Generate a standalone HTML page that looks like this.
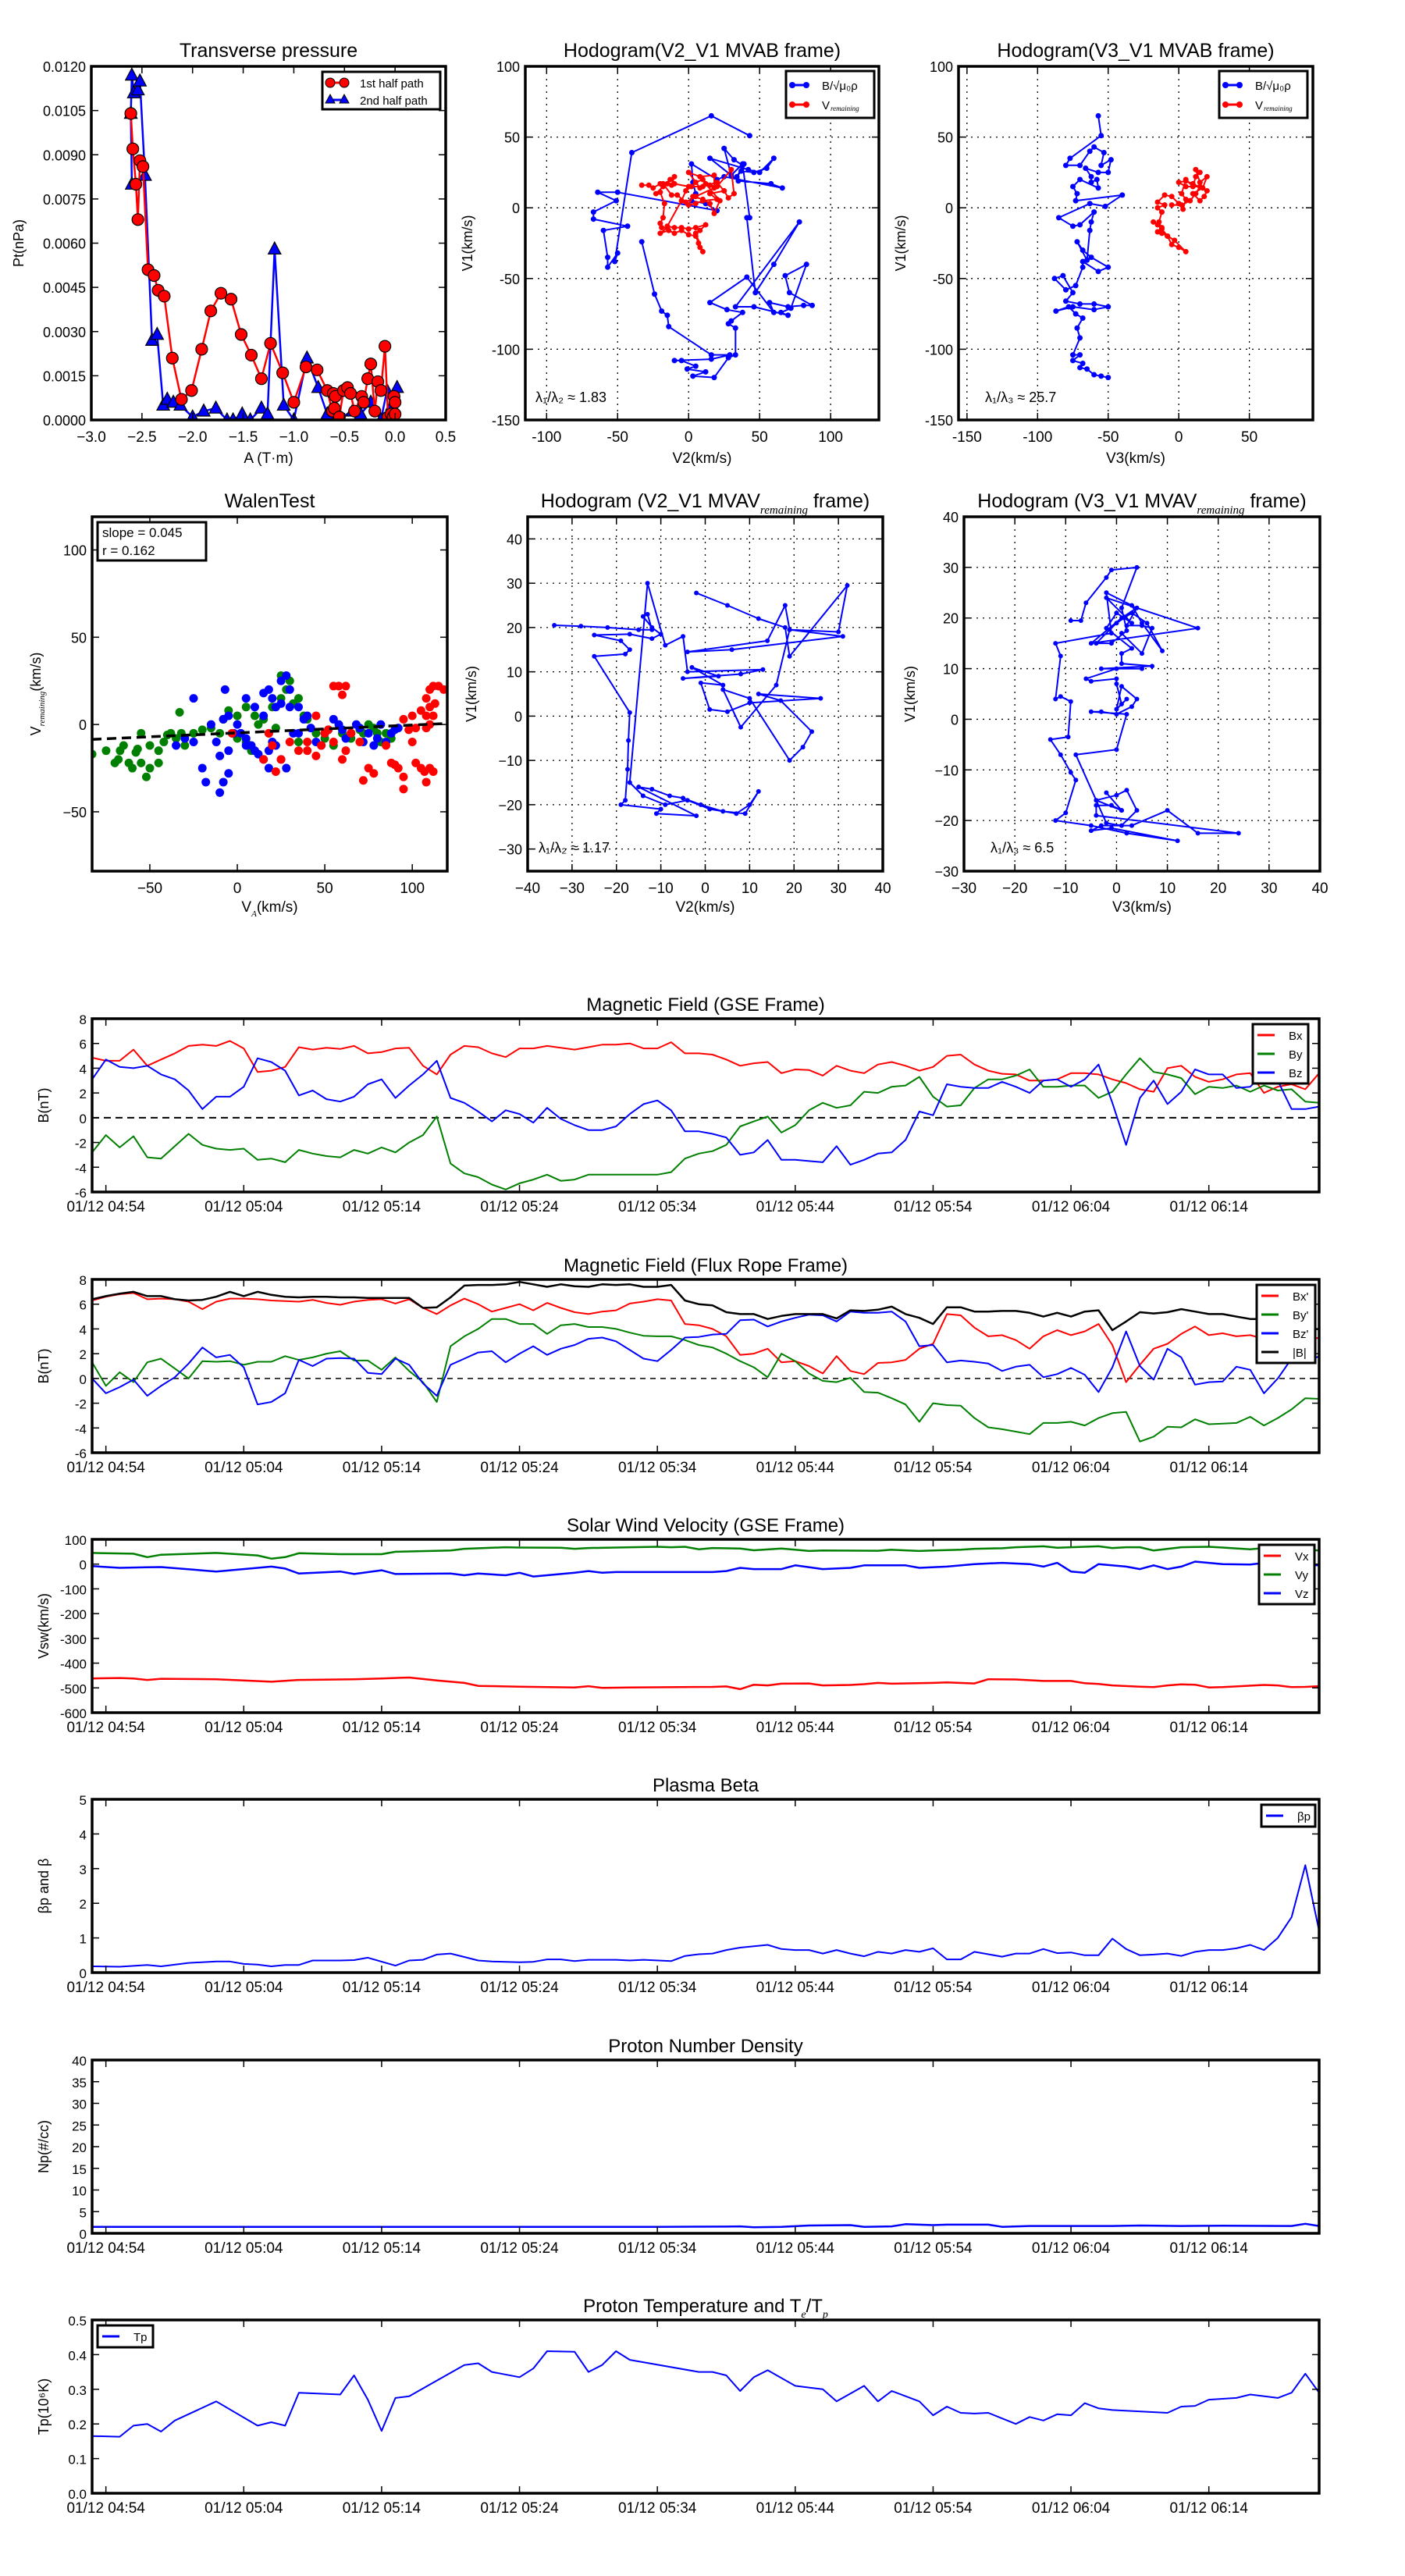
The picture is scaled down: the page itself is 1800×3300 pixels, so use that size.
<!DOCTYPE html>
<html><head><meta charset="utf-8">
<style>
html,body{margin:0;padding:0;background:#fff;}
svg{display:block;font-family:"Liberation Sans","DejaVu Sans",sans-serif;}
</style></head>
<body>
<svg id="fig" width="1800" height="3300" viewBox="0 0 1800 3300" xmlns="http://www.w3.org/2000/svg">
<rect x="0" y="0" width="1800" height="3300" fill="#fff"/>
</svg>
<script>
// ---------------- DATA ----------------
const ptRedA=[-2.61,-2.59,-2.56,-2.54,-2.52,-2.49,-2.44,-2.38,-2.34,-2.28,-2.2,-2.11,-2.01,-1.91,-1.82,-1.72,-1.62,-1.52,-1.42,-1.32,-1.23,-1.11,-1.0,-0.88,-0.77,-0.67,-0.62,-0.6,-0.61,-0.59,-0.55,-0.51,-0.47,-0.44,-0.4,-0.33,-0.31,-0.27,-0.24,-0.2,-0.17,-0.14,-0.1,-0.07,-0.04,-0.01,0.0,-0.02,0.0];
const ptRedP=[0.0104,0.0092,0.0080,0.0068,0.0088,0.0086,0.0051,0.0049,0.0044,0.0042,0.0021,0.0007,0.0010,0.0024,0.0037,0.0043,0.0041,0.0029,0.0022,0.0014,0.0026,0.0016,0.0006,0.0018,0.0017,0.0010,0.0003,0.0004,0.0009,0.0008,0.0001,0.0010,0.0011,0.0009,0.0003,0.0008,0.0006,0.0014,0.0019,0.0003,0.0013,0.0010,0.0025,0.0001,0.0002,0.0008,0.0006,0.0001,0.0002];
const ptBlueA=[-2.6,-2.61,-2.6,-2.58,-2.54,-2.52,-2.47,-2.4,-2.35,-2.29,-2.25,-2.19,-2.12,-2.0,-1.89,-1.77,-1.66,-1.6,-1.51,-1.43,-1.32,-1.26,-1.19,-1.1,-1.0,-0.87,-0.76,-0.67,-0.58,-0.42,-0.34,-0.24,-0.14,-0.08,-0.03,0.02,0.0];
const ptBlueP=[0.0080,0.0104,0.0117,0.0111,0.0112,0.0115,0.0083,0.0027,0.0029,0.0005,0.0007,0.0006,0.0005,0.0001,0.0003,0.0004,0.0000,0.0000,0.0002,0.0000,0.0004,0.0002,0.0058,0.0005,0.0000,0.0021,0.0011,0.0002,0.0000,0.0003,0.0002,0.0006,0.0000,0.0010,0.0005,0.0011,0.0000];

const hoB_V2=[-33,-24,-19,-15,-14,16,29,16,-10,-5,5,-1,12,3,18,28,33,33,28,30,38,27,15,41,60,57,70,81,87,71,68,83,72,65,70,46,33,78,60,47,41,43,38,30,25,32,38,39,34,37,46,55,60,50,42,15,35,58,66,25,20,2,3,5,2,12,20,-50,-64,-51,-67,-67,-43,-60,-57,-57,-50,-52,-40,16,43];
const hoB_V1=[-24,-61,-73,-76,-84,-104,-104,-107,-108,-108,-112,-114,-116,-119,-120,-106,-104,-85,-82,-80,-74,-72,-67,-49,-74,-67,-70,-69,-69,-60,-48,-40,-71,-74,-76,-70,-70,-10,-40,-60,-7,-7,31,23,42,34,30,31,22,26,25,28,35,25,27,35,19,17,14,22,20,31,18,10,5,3,-2,11,11,5,-3,-8,-13,-16,-35,-42,-32,-38,39,65,51];
const hoR_V2=[-33,-28,-25,-20,-15,-12,-10,-13,-18,-23,-20,-17,-18,-20,-19,-15,-20,-14,-10,-5,0,5,7,8,10,5,8,12,5,0,-5,-10,-15,-5,-2,2,5,10,15,20,30,32,28,25,15,20,10,5,0,3,10,15,18,22,12,8,0,8,18,18,5,-2,-8,-12,-18,-10,0,10,20,25];
const hoR_V1=[16,16,14,17,17,16,22,20,15,10,11,3,-7,-11,-14,-14,-18,-16,-18,-16,-19,-20,-25,-28,-31,-18,-16,-12,-14,-15,-14,-14,-13,5,12,15,18,20,16,15,27,10,7,12,10,6,5,3,2,8,6,3,-4,5,17,14,25,22,23,14,8,4,9,9,17,17,15,15,18,12];

const hoB_V3=[-57,-55,-77,-80,-70,-63,-60,-53,-55,-48,-50,-57,-66,-62,-62,-58,-57,-70,-75,-72,-73,-40,-52,-63,-85,-75,-70,-60,-62,-63,-65,-72,-68,-62,-50,-57,-68,-68,-73,-80,-88,-82,-75,-80,-70,-60,-50,-60,-75,-87,-78,-73,-68,-72,-70,-75,-70,-75,-68,-70,-65,-60,-55,-50];
const hoB_V1b=[65,51,35,30,30,40,43,39,30,34,25,25,28,22,18,20,14,20,15,10,5,9,1,3,-7,-13,-12,-3,-10,-16,-37,-24,-30,-35,-42,-45,-38,-42,-55,-58,-50,-48,-60,-66,-68,-68,-70,-72,-70,-73,-70,-75,-78,-85,-92,-104,-104,-108,-110,-113,-114,-118,-119,-120];
const hoR_V3=[-18,-15,-12,-15,-12,-8,-5,0,5,-3,-8,-12,-14,-12,-15,-10,-15,-10,-5,0,3,5,2,5,10,12,15,12,15,20,17,10,15,18,20,10,5,0,5,15,12,8,2,-5];
const hoR_V1b=[-10,-12,-14,-17,-18,-20,-26,-28,-31,-23,-20,-15,-10,-3,0,2,4,9,8,3,-1,6,10,20,15,22,25,27,18,22,14,10,5,8,12,17,19,18,15,15,10,5,2,2];

const walenRedX=[55,58,62,60,45,50,52,48,55,62,60,65,70,72,75,78,85,88,90,92,95,95,100,102,105,107,108,110,112,100,102,105,108,110,112,115,118,110,108,112,110,113,108,95,98,20,18,25,22,-3,30,35,40,45,15,40];
const walenRedY=[22,22,22,17,5,-5,-3,-12,-10,-15,-20,-5,-10,-32,-25,-28,-12,-22,-23,-25,-30,-37,-10,-22,-25,-27,-33,-25,-27,5,-2,8,15,20,22,22,20,10,5,5,0,12,-2,3,-3,-12,-5,-20,-27,-5,-10,-15,-15,-18,-20,-10];
const walenGreenX=[-83,-75,-70,-68,-67,-65,-62,-60,-58,-57,-55,-55,-52,-50,-50,-45,-45,-42,-38,-35,-32,-30,-25,-20,-15,-10,-8,-5,-3,0,0,5,5,8,10,12,15,18,20,22,25,25,28,30,32,35,35,38,40,45,50,55,60,65,70,72,75,78,80,82,85,88,-40,-33];
const walenGreenY=[-17,-15,-22,-20,-15,-12,-22,-25,-16,-14,-22,-5,-30,-12,-25,-15,-22,-10,-5,-8,-5,-12,-5,-3,-2,-5,3,8,-5,-8,5,10,-10,-15,5,0,3,-5,10,-2,15,28,20,25,12,15,-10,5,3,-5,-8,-12,-5,-8,-3,-5,0,-2,-5,-10,-5,-8,-6,7];
const walenBlueX=[-10,-8,-5,-20,-18,-25,-12,-10,-5,-2,0,2,5,5,8,10,12,15,18,18,20,22,25,28,-7,15,15,18,20,22,25,25,28,30,30,32,35,35,38,40,42,45,48,50,52,55,58,60,62,65,68,70,72,75,78,80,82,85,88,90,92,-30,-25,-35,-15,-5,5,10,-8];
const walenBlueY=[-39,-33,-28,-25,-33,15,-10,-18,-15,-5,0,-5,-8,-12,-12,-15,-17,-20,-15,-25,-10,-12,-20,-25,20,5,18,20,15,10,12,25,28,10,20,-5,10,-5,3,5,-2,-10,-12,-5,-3,3,0,-3,-8,-5,0,-2,-10,-5,-12,-8,0,-10,-5,-3,-2,-8,-10,-12,0,5,15,10,3];
const walenSlope=0.045, walenIntercept=-4.8;

const mvV2=[-34,-28,-22,-15,-12,-13,-14,-12,-10,-12,-17,-25,-19,-17,-18,-25,-17,-17.3,-17.5,-18,-19,-10,-11,-2,-15,-12,-8,-5,-1,4,9,12,10,7,1,-4,-9,-14,-17,-13,-9,-5,-4,13,8,-5,3,-3,4,-1,1,5,10,26,12,17,24,22,19,10,4,8,16,19,31,6,-4,14,18,19,30,32,19,18,12,5,-2];
const mvV1=[20.5,20.3,20,19.5,19.5,23,22.5,20,18.5,17.5,18.5,18.3,17,15,14,13.5,0.8,-5.5,-12,-19,-20,-21,-22,-22.5,-16,-16.5,-18,-18.5,-20,-21.5,-22,-17,-20,-22,-21,-19,-20,-18,-15,30,16,18,10,10.5,9.5,8.5,9,11,7,7.5,1.5,1,3,4,5,3.5,-3.5,-7,-10,4,6,-2.5,7,19.5,18,15,14.5,17,25,19.5,19,29.5,13.5,20,22,25,27.8];
const mv3V3=[-9,-7,-6,-2,-1,4,1,2,-1,-4,0,3,6,9,5,3,-2,-1,-12,-11,-12,-11,-9,-9.5,-13,-11,-9,-8,-10,-12,-5,2,12,-1,-5,-3,3,10,16,24,-4,-4,-1,1,-2,1,-4,0,2,4,1,-2,-8,0,2,-5,-3,0,3,4,1,0,2,1,0,0,-5,-6,0,5,-3,7,1,1,3,-2,0,3,-2,16,-5,1,4,2,5,7,5,1];
const mv3V1=[19.5,19.5,23,28,29.5,30,22,17.5,15,15,19,21,19,13.5,19,22.5,25,17,15,12.5,4,4.5,3.5,-3.5,-4,-7,-10.5,-12,-18.5,-20,-21,-22.5,-24,-21.5,-22,-21,-21,-18,-22.5,-22.5,-19,-17,-17,-18,-14.5,-18,-16,-15,-14,-18,-21,-20.5,-7,-6,1,1.5,1.5,1,2.5,4,6.5,2,4,3,7,8,7.5,8,10,10,10,10.5,11,13,14,18,21,19,24,18,15,20,22,18.5,18.5,18,13,17];

// time-series (minutes after 01/12 04:54, 1-min cadence starting at -1)
const tsStart=-1;
const timeTickMin=[0,10,20,30,40,50,60,70,80];
const timeTickLbl=['01/12 04:54','01/12 05:04','01/12 05:14','01/12 05:24','01/12 05:34','01/12 05:44','01/12 05:54','01/12 06:04','01/12 06:14'];
const bxGse=[4.85,4.6,4.6,5.5,4.2,4.7,5.2,5.8,5.9,5.8,6.2,5.6,3.7,3.8,4.1,5.7,5.5,5.65,5.55,5.8,5.2,5.3,5.6,5.65,4.2,3.5,5.1,5.8,5.7,5.2,4.9,5.6,5.6,5.8,5.65,5.5,5.7,5.9,5.9,6.0,5.6,5.6,6.1,5.2,5.2,5.1,4.7,4.2,4.4,4.5,3.6,3.9,3.85,3.4,4.2,3.8,3.6,4.3,4.5,4.2,3.8,4.1,5.0,5.1,4.3,3.8,3.55,3.5,3.0,3.0,3.1,3.6,3.6,3.5,3.1,2.8,2.3,2.1,4.0,4.2,3.3,2.9,3.1,3.5,3.6,2.0,2.5,2.7,2.3,3.6];
const byGse=[-2.8,-1.4,-2.4,-1.5,-3.2,-3.3,-2.3,-1.3,-2.2,-2.5,-2.6,-2.5,-3.4,-3.3,-3.6,-2.6,-2.9,-3.1,-3.2,-2.6,-2.9,-2.4,-2.8,-2.0,-1.4,0.1,-3.7,-4.5,-4.8,-5.4,-5.8,-5.3,-5.0,-4.6,-5.1,-5.0,-4.6,-4.6,-4.6,-4.6,-4.6,-4.6,-4.4,-3.3,-2.9,-2.7,-2.2,-0.7,-0.3,0.1,-1.2,-0.6,0.6,1.2,0.8,1.0,2.1,2.0,2.5,2.6,3.3,1.7,0.9,1.0,2.4,3.1,3.1,3.4,3.9,2.5,2.5,2.6,2.6,1.6,2.1,3.5,4.8,3.7,3.5,3.2,1.9,2.5,2.4,2.6,2.1,2.6,2.2,2.3,1.3,1.2];
const bzGse=[3.1,4.7,4.1,4.0,4.2,3.5,3.1,2.2,0.7,1.7,1.7,2.5,4.8,4.5,3.8,1.8,2.2,1.5,1.3,1.7,2.7,3.1,1.6,2.6,3.5,4.6,1.6,1.2,0.5,-0.3,0.6,0.3,-0.4,0.8,-0.1,-0.6,-1.0,-1.0,-0.7,0.3,1.1,1.4,0.6,-1.1,-1.1,-1.3,-1.6,-3.0,-2.8,-1.8,-3.4,-3.4,-3.5,-3.6,-2.3,-3.8,-3.4,-2.9,-2.8,-1.8,0.5,0.2,2.7,2.5,2.4,2.4,2.9,2.5,2.0,3.0,3.1,2.5,3.1,4.3,1.2,-2.2,1.6,3.0,1.1,2.1,3.9,3.5,3.5,2.4,2.5,3.6,3.0,0.7,0.7,0.9];
const bxFr=[6.3,6.6,6.8,6.9,6.4,6.45,6.4,6.2,5.6,6.2,6.45,6.45,6.4,6.3,6.25,6.2,6.35,6.1,5.95,6.2,6.35,6.4,6.05,6.4,5.7,5.2,5.9,6.45,6.0,5.4,5.7,6.0,5.5,6.1,5.7,5.35,5.2,5.4,5.5,6.05,6.2,6.4,6.3,4.4,4.3,4.0,3.4,1.9,2.0,2.4,1.3,1.4,1.0,0.4,1.8,0.6,0.35,1.25,1.3,1.5,2.4,2.8,5.2,5.1,4.1,3.4,3.5,3.1,2.4,3.4,3.9,3.5,3.8,4.4,2.7,-0.3,1.1,2.4,2.8,3.6,4.2,3.5,3.65,3.4,3.5,3.2,3.2,2.5,3.0,3.3];
const byFr=[1.3,-0.6,0.5,-0.3,1.3,1.6,0.8,0.0,1.4,1.35,1.4,1.1,1.35,1.35,1.8,1.5,1.7,2.0,2.2,1.45,1.45,0.7,1.7,0.6,-0.3,-1.9,2.6,3.4,4.0,4.8,4.8,4.4,4.4,3.6,4.3,4.4,4.15,4.15,4.0,3.7,3.45,3.4,3.4,3.1,2.7,2.5,2.0,1.4,0.9,0.1,2.0,1.4,0.4,-0.2,-0.3,0.05,-1.1,-1.15,-1.6,-2.1,-3.5,-2.0,-2.15,-2.2,-3.2,-3.95,-4.1,-4.3,-4.5,-3.6,-3.6,-3.5,-3.8,-3.2,-2.8,-2.7,-5.1,-4.7,-3.9,-3.95,-3.3,-3.7,-3.65,-3.6,-3.1,-3.8,-3.2,-2.5,-1.6,-1.65];
const bzFr=[0.0,-1.2,-0.7,-0.1,-1.4,-0.6,0.1,1.2,2.5,1.7,1.9,0.9,-2.1,-1.9,-1.2,1.5,1.0,1.6,1.65,1.6,0.45,0.35,1.6,1.1,-0.4,-1.4,1.1,1.6,2.1,2.2,1.3,2.0,2.6,1.9,2.4,2.7,3.2,3.3,3.0,2.3,1.6,1.4,2.3,3.3,3.35,3.55,3.6,4.7,4.75,4.2,4.6,4.9,5.15,5.1,4.6,5.4,5.3,5.3,5.4,4.6,2.6,2.7,1.3,1.45,1.35,1.2,0.6,0.95,1.1,0.1,0.35,0.85,0.3,-1.1,0.9,3.8,1.0,-0.1,2.4,1.7,-0.5,-0.3,-0.25,0.95,0.7,-1.2,0.0,1.6,1.25,1.8];
const bmFr=[6.4,6.65,6.85,7.0,6.65,6.65,6.4,6.3,6.35,6.6,7.0,6.65,7.0,6.75,6.6,6.55,6.6,6.6,6.55,6.55,6.5,6.5,6.5,6.5,5.7,5.75,6.55,7.5,7.55,7.55,7.6,7.8,7.6,7.4,7.6,7.45,7.4,7.6,7.55,7.6,7.4,7.4,7.55,6.3,6.0,5.9,5.35,5.2,5.2,4.8,5.05,5.2,5.2,5.2,4.85,5.5,5.45,5.55,5.8,5.2,4.9,4.4,5.75,5.75,5.4,5.4,5.45,5.45,5.3,5.0,5.3,5.0,5.4,5.5,3.9,4.6,5.35,5.25,5.35,5.6,5.4,5.2,5.2,5.0,4.8,4.8,4.5,3.9,3.9,4.0];

const vT=[-1,1,2,3,4,8,10,12,14,18,20,22,24,26,27,30,32,34,35,36,38,44,45,46,47,48,49,51,52,54,55,56,57,60,61,63,64,66,68,70,71,72,73,75,76,77,78,79,80,81,82,84,85,86,87,88];
const vxVal=[-462,-460,-462,-468,-463,-465,-470,-475,-468,-465,-462,-458,-470,-480,-492,-495,-497,-498,-493,-500,-498,-496,-494,-505,-487,-490,-483,-482,-490,-488,-485,-480,-483,-480,-478,-482,-465,-466,-472,-472,-481,-484,-490,-495,-497,-490,-486,-487,-498,-497,-494,-488,-490,-497,-496,-493];
const vyT=[-1,2,3,4,8,11,12,13,14,17,20,21,25,26,29,30,33,34,35,40,41,42,43,44,46,47,49,51,52,56,57,59,60,62,63,65,66,68,69,71,72,73,74,75,76,78,80,81,83,84,86,88];
const vyVal=[45,42,28,38,45,35,22,28,44,40,40,50,55,62,68,67,66,62,65,70,68,70,60,65,63,56,63,53,55,54,58,53,55,58,62,64,68,72,66,70,72,65,68,68,55,68,70,67,60,65,62,55];
const vzT=[-1,1,3,4,8,11,12,13,14,17,18,20,21,25,26,27,29,30,31,34,35,36,37,44,45,46,47,49,50,52,54,55,58,59,61,63,65,67,68,69,70,71,72,74,75,76,77,78,79,81,83,84,86,88];
const vzVal=[-8,-15,-13,-12,-30,-15,-10,-18,-38,-30,-40,-25,-40,-38,-45,-38,-45,-35,-50,-35,-28,-35,-32,-32,-28,-15,-20,-20,-5,-20,-15,-5,-5,-15,-10,0,5,0,-10,5,-30,-35,0,-10,-20,-5,-20,-10,10,0,-2,5,0,-5];

const betaT=[-1,1,3,4,6,8,9,10,11,12,13,14,15,17,18,19,21,22,23,24,25,26,27,28,30,31,32,33,34,35,37,38,39,41,42,43,44,45,46,48,49,50,51,52,53,54,55,56,57,58,59,60,61,62,63,64,65,66,67,68,69,70,71,72,73,74,75,76,77,78,79,80,81,82,83,84,85,86,87,88];
const betaVal=[0.18,0.17,0.22,0.18,0.28,0.32,0.32,0.25,0.23,0.18,0.22,0.22,0.35,0.35,0.36,0.43,0.2,0.35,0.37,0.52,0.55,0.45,0.35,0.32,0.3,0.31,0.38,0.38,0.33,0.37,0.37,0.35,0.37,0.33,0.48,0.53,0.55,0.65,0.72,0.8,0.68,0.65,0.65,0.55,0.65,0.55,0.47,0.6,0.55,0.65,0.6,0.7,0.38,0.38,0.6,0.53,0.46,0.55,0.55,0.68,0.56,0.58,0.5,0.5,0.98,0.68,0.5,0.52,0.55,0.48,0.6,0.65,0.65,0.7,0.8,0.65,1.0,1.6,3.1,1.2];

const npT=[-1,10,20,30,40,45,46,47,49,51,54,55,57,58,60,61,64,65,67,73,75,78,81,86,87,88];
const npVal=[1.5,1.5,1.5,1.5,1.5,1.55,1.6,1.4,1.5,1.8,1.9,1.5,1.6,2.1,1.9,2.0,2.0,1.5,1.7,1.7,1.8,1.7,1.75,1.7,2.2,1.7];

const tpT=[-1,1,2,3,4,5,8,11,12,13,14,17,18,19,20,21,22,26,27,28,30,31,32,34,35,36,37,38,43,44,45,46,47,48,50,51,52,53,55,56,57,59,60,61,62,63,64,66,67,68,69,70,71,72,73,77,78,79,80,82,83,85,86,87,88];
const tpVal=[0.165,0.163,0.195,0.2,0.178,0.21,0.265,0.195,0.205,0.195,0.29,0.285,0.34,0.27,0.18,0.275,0.28,0.37,0.375,0.35,0.335,0.36,0.41,0.408,0.35,0.37,0.41,0.385,0.35,0.35,0.34,0.295,0.335,0.355,0.31,0.305,0.3,0.265,0.31,0.265,0.295,0.265,0.225,0.25,0.232,0.23,0.232,0.2,0.22,0.21,0.228,0.225,0.26,0.245,0.24,0.232,0.25,0.252,0.27,0.275,0.285,0.275,0.29,0.345,0.29];

// ---------------- DRAWING ----------------
const NS='http://www.w3.org/2000/svg';
const svg=document.getElementById('fig');
function mk(tag,attrs,parent){const e=document.createElementNS(NS,tag);for(const k in attrs)e.setAttribute(k,attrs[k]);(parent||svg).appendChild(e);return e;}
function txt(parent,x,y,s,size,anchor,rot,extra){
  const t=mk('text',{x:0,y:0,'font-size':size,'text-anchor':anchor||'middle',fill:'#000',transform:'translate('+x+','+y+')'+(rot?' rotate('+rot+')':'')},parent);
  if(extra)for(const k in extra)t.setAttribute(k,extra[k]);
  if(Array.isArray(s)){
    s.forEach((part,i)=>{const sp=mk('tspan',{},t);
      if(i%2===1){sp.setAttribute('font-size',Math.round(size*0.6));sp.setAttribute('dy',Math.round(size*0.3));sp.setAttribute('font-style','italic');sp.setAttribute('font-family','Liberation Serif, serif');}
      else if(i>0){sp.setAttribute('dy',-Math.round(size*0.3));}
      sp.textContent=part;});
  } else t.textContent=s;
  return t;}
let clipId=0;
function panel(o){
  const g=mk('g',{},svg);
  
  
  const sx=v=>o.x+(v-o.xmin)/(o.xmax-o.xmin)*o.w;
  const sy=v=>o.y+o.h-(v-o.ymin)/(o.ymax-o.ymin)*o.h;
  const cid='c'+(clipId++);
  const cp=mk('clipPath',{id:cid},g);
  mk('rect',{x:o.x,y:o.y,width:o.w,height:o.h},cp);
  if(o.grid){
    o.xticks.forEach(v=>{const l=mk('line',{x1:sx(v),x2:sx(v),y1:o.y,y2:o.y+o.h,stroke:'#000','stroke-width':1.3,'stroke-dasharray':'2,6'},g);
      
      });
    o.yticks.forEach(v=>{const l=mk('line',{x1:o.x,x2:o.x+o.w,y1:sy(v),y2:sy(v),stroke:'#000','stroke-width':1.3,'stroke-dasharray':'2,6'},g);
      
      });
  }
  const data=mk('g',{'clip-path':'url(#'+cid+')'},g);
  
  
  const tk=mk('g',{stroke:'#000','stroke-width':1.5},g);
  
  
  o.xticks.forEach((v,i)=>{const X=sx(v);
    mk('line',{x1:X,x2:X,y1:o.y+o.h,y2:o.y+o.h-9},tk);mk('line',{x1:X,x2:X,y1:o.y,y2:o.y+9},tk);
    const t=txt(g,X,o.y+o.h+(o.xtickGap||28),o.xlabels[i],o.xtickSize||19,'middle');
    
    });
  o.yticks.forEach((v,i)=>{const Y=sy(v);
    mk('line',{x1:o.x,x2:o.x+9,y1:Y,y2:Y},tk);mk('line',{x1:o.x+o.w,x2:o.x+o.w-9,y1:Y,y2:Y},tk);
    const t=txt(g,o.x-7,Y+7,o.ylabels[i],o.ytickSize||18,'end');
    
    });
  if(o.title){const t=txt(g,o.x+o.w/2,o.y-(o.titleGap||12),o.title,o.titleSize||25,'middle');
    
    }
  if(o.xlabel){const t=txt(g,o.x+o.w/2,o.y+o.h+(o.xlabelGap||60),o.xlabel,19,'middle');
    
    }
  if(o.ylabel){const t=txt(g,o.ylx,o.y+o.h/2,o.ylabel,18,'middle',-90);
    
    }
  return {g,data,sx,sy,o,frame(){const r=mk('rect',{x:o.x,y:o.y,width:o.w,height:o.h,fill:'none',stroke:'#000','stroke-width':3.5},g);
    
    }};
}
function line(P,xs,ys,color,w,name,dash){
  const d=xs.map((x,i)=>(i?'L':'M')+P.sx(x).toFixed(1)+','+P.sy(ys[i]).toFixed(1)).join('');
  const p=mk('path',{d:d,fill:'none',stroke:color,'stroke-width':w||2,'stroke-linejoin':'round'},P.data);
  if(dash)p.setAttribute('stroke-dasharray',dash);
  
  
  return p;}
function dots(P,xs,ys,color,r,name,edge){
  const g=mk('g',{},P.data);
  
  
  xs.forEach((x,i)=>{mk('circle',{cx:P.sx(x),cy:P.sy(ys[i]),r:r,fill:color,stroke:edge||color,'stroke-width':edge?1.2:0},g);});
  return g;}
function tris(P,xs,ys,color,s,name){
  const g=mk('g',{},P.data);
  
  
  xs.forEach((x,i)=>{const X=P.sx(x),Y=P.sy(ys[i]);
    mk('polygon',{points:X+','+(Y-s)+' '+(X-s*0.9)+','+(Y+s*0.7)+' '+(X+s*0.9)+','+(Y+s*0.7),fill:color,stroke:'#000','stroke-width':1.2},g);});
  return g;}
function legendBox(parent,x,y,w,h,name){
  const g=mk('g',{},parent);
  
  
  mk('rect',{x:x,y:y,width:w,height:h,fill:'#fff',stroke:'#000','stroke-width':3},g);
  return g;}
function legEntry(g,x,y,color,label,size,marker){
  const e=mk('g',{},g);
  
  
  mk('line',{x1:x,x2:x+22,y1:y,y2:y,stroke:color,'stroke-width':3},e);
  if(marker==='dot'){mk('circle',{cx:x+2,cy:y,r:4,fill:color},e);mk('circle',{cx:x+20,cy:y,r:4,fill:color},e);}
  txt(e,x+40,y+6,label,size||16,'start');
  return e;}
function rng(a,b,s){const r=[];for(let v=a;v<=b+1e-9;v+=s)r.push(+v.toFixed(6));return r;}

// ===== Transverse pressure =====
{
 const xt=rng(-3,0.5,0.5), yt=rng(0,0.012,0.0015);
 const P=panel({name:'transverse-pressure-chart',x:117,y:85,w:454,h:453,xmin:-3,xmax:0.5,ymin:0,ymax:0.012,
  xticks:xt,xlabels:xt.map(v=>v.toFixed(1).replace('-','−')),yticks:yt,ylabels:yt.map(v=>v.toFixed(4)),
  title:'Transverse pressure',xlabel:'A (T·m)',ylabel:'Pt(nPa)',ylx:30,xlabelGap:55});
 line(P,ptBlueA,ptBlueP,'#0000ff',2.5,'second-half-path-line');
 tris(P,ptBlueA,ptBlueP,'#0000ff',9,'second-half-path-markers');
 line(P,ptRedA,ptRedP,'#ff0000',2.5,'first-half-path-line');
 dots(P,ptRedA,ptRedP,'#ff0000',7.5,'first-half-path-markers','#000');
 P.frame();
 const L=legendBox(P.g,413,92,151,48,'legend');
 const e1=legEntry(L,421,106,'#ff0000','1st half path',15);
 mk('circle',{cx:423,cy:106,r:6,fill:'#f00',stroke:'#000'},e1);mk('circle',{cx:441,cy:106,r:6,fill:'#f00',stroke:'#000'},e1);
 const e2=legEntry(L,421,128,'#0000ff','2nd half path',15);
 mk('polygon',{points:'423,121 417,132 429,132',fill:'#00f',stroke:'#000'},e2);mk('polygon',{points:'441,121 435,132 447,132',fill:'#00f',stroke:'#000'},e2);
}
function hodoLegend(P,x,y){
 const L=legendBox(P.g,x,y,113,60,'legend');
 legEntry(L,x+6,y+18,'#0000ff','B/√μ₀ρ',15,'dot');
 legEntry(L,x+6,y+43,'#ff0000','V',15,'dot');
 txt(L,x+57,y+51,'remaining',9,'start',0,{'font-style':'italic','font-family':'Liberation Serif, serif'});
}
// ===== Hodogram V2_V1 MVAB =====
{
 const xt=[-100,-50,0,50,100], yt=[-150,-100,-50,0,50,100];
 const P=panel({name:'hodogram-v2-v1-mvab',x:673,y:85,w:453,h:453,xmin:-115,xmax:134,ymin:-150,ymax:100,grid:true,
  xticks:xt,xlabels:xt.map(String),yticks:yt,ylabels:yt.map(String),title:'Hodogram(V2_V1 MVAB frame)',xlabel:'V2(km/s)',ylabel:'V1(km/s)',ylx:605,xlabelGap:55});
 line(P,hoB_V2,hoB_V1,'#0000ff',2,'b-field-path');
 dots(P,hoB_V2,hoB_V1,'#0000ff',3.5,'b-field-points');
 line(P,hoR_V2,hoR_V1,'#ff0000',2,'v-remaining-path');
 dots(P,hoR_V2,hoR_V1,'#ff0000',3.5,'v-remaining-points');
 P.frame(); hodoLegend(P,1007,91);
 const t=txt(P.g,686,515,'λ₁/λ₂ ≈ 1.83',18,'start');
 
 
}
// ===== Hodogram V3_V1 MVAB =====
{
 const xt=[-150,-100,-50,0,50], yt=[-150,-100,-50,0,50,100];
 const P=panel({name:'hodogram-v3-v1-mvab',x:1228,y:85,w:454,h:453,xmin:-156,xmax:95,ymin:-150,ymax:100,grid:true,
  xticks:xt,xlabels:xt.map(String),yticks:yt,ylabels:yt.map(String),title:'Hodogram(V3_V1 MVAB frame)',xlabel:'V3(km/s)',ylabel:'V1(km/s)',ylx:1160,xlabelGap:55});
 line(P,hoB_V3,hoB_V1b,'#0000ff',2,'b-field-path');
 dots(P,hoB_V3,hoB_V1b,'#0000ff',3.5,'b-field-points');
 line(P,hoR_V3,hoR_V1b,'#ff0000',2,'v-remaining-path');
 dots(P,hoR_V3,hoR_V1b,'#ff0000',3.5,'v-remaining-points');
 P.frame(); hodoLegend(P,1562,91);
 const t=txt(P.g,1262,515,'λ₁/λ₃ ≈ 25.7',18,'start');
 
 
}
// ===== Walen test =====
{
 const xt=[-50,0,50,100], yt=[-50,0,50,100];
 const P=panel({name:'walen-test-chart',x:118,y:662,w:455,h:454,xmin:-83,xmax:120,ymin:-84,ymax:119,
  xticks:xt,xlabels:xt.map(v=>String(v).replace('-','−')),yticks:yt,ylabels:yt.map(v=>String(v).replace('-','−')),title:'WalenTest',xlabel:['V','A','(km/s)'],ylabel:['V','remaining','(km/s)'],ylx:52,xlabelGap:52});
 dots(P,walenGreenX,walenGreenY,'#008000',5.5,'walen-points-green');
 dots(P,walenBlueX,walenBlueY,'#0000ff',5.5,'walen-points-blue');
 dots(P,walenRedX,walenRedY,'#ff0000',5.5,'walen-points-red');
 line(P,[-83,120],[walenSlope*-83+walenIntercept,walenSlope*120+walenIntercept],'#000',3.5,'walen-fit-line','12,7');
 P.frame();
 const L=legendBox(P.g,125,669,139,49,'walen-stats-box');
 txt(L,131,688,'slope = 0.045',17,'start');
 txt(L,131,711,'r = 0.162',17,'start');
}
// ===== Hodogram V2_V1 MVAV =====
{
 const xt=rng(-40,40,10), yt=rng(-30,40,10);
 const P=panel({name:'hodogram-v2-v1-mvav',x:676,y:662,w:455,h:454,xmin:-40,xmax:40,ymin:-35,ymax:45,grid:true,
  xticks:xt,xlabels:xt.map(v=>String(v).replace('-','−')),yticks:yt,ylabels:yt.map(v=>String(v).replace('-','−')),title:['Hodogram (V2_V1 MVAV','remaining',' frame)'],xlabel:'V2(km/s)',ylabel:'V1(km/s)',ylx:610,xlabelGap:52});
 line(P,mvV2,mvV1,'#0000ff',2,'b-field-path');
 dots(P,mvV2,mvV1,'#0000ff',3,'b-field-points');
 P.frame();
 const t=txt(P.g,690,1092,'λ₁/λ₂ ≈ 1.17',18,'start');
 
 
}
// ===== Hodogram V3_V1 MVAV =====
{
 const xt=rng(-30,40,10), yt=rng(-30,40,10);
 const P=panel({name:'hodogram-v3-v1-mvav',x:1235,y:662,w:456,h:454,xmin:-30,xmax:40,ymin:-30,ymax:40,grid:true,
  xticks:xt,xlabels:xt.map(v=>String(v).replace('-','−')),yticks:yt,ylabels:yt.map(v=>String(v).replace('-','−')),title:['Hodogram (V3_V1 MVAV','remaining',' frame)'],xlabel:'V3(km/s)',ylabel:'V1(km/s)',ylx:1172,xlabelGap:52});
 line(P,mv3V3,mv3V1,'#0000ff',2,'b-field-path');
 dots(P,mv3V3,mv3V1,'#0000ff',3,'b-field-points');
 P.frame();
 const t=txt(P.g,1269,1092,'λ₁/λ₃ ≈ 6.5',18,'start');
 
 
}
// ===== Time series =====
const tsTops=[1305,1639,1972,2305,2639,2972];
function tsPanel(i,name,ymin,ymax,yt,ylbl,title,ylabel){
 return panel({name:name,x:118,y:tsTops[i],w:1572,h:222,xmin:-1,xmax:88,ymin:ymin,ymax:ymax,
  xticks:timeTickMin,xlabels:timeTickLbl,yticks:yt,ylabels:ylbl,title:title,titleGap:10,titleSize:24,ylabel:ylabel,ylx:62,xtickGap:25,xtickSize:19,ytickSize:17});
}
function idxT(arr){return arr.map((v,i)=>tsStart+i);}
function tsLegend(P,x,y,w,labels,colors){
 const L=legendBox(P.g,x,y,w,labels.length*24+4,'legend');
 labels.forEach((lb,i)=>{legEntry(L,x+6,y+14+i*24,colors[i],lb,15);});
}
{
 const yt=rng(-6,8,2);
 const P=tsPanel(0,'magnetic-field-gse-chart',-6,8,yt,yt.map(String),'Magnetic Field (GSE Frame)','B(nT)');
 line(P,[-1,88],[0,0],'#000',2,'zero-line','9,6');
 line(P,idxT(bxGse),bxGse,'#ff0000',2,'bx-line');
 line(P,idxT(byGse),byGse,'#008000',2,'by-line');
 line(P,idxT(bzGse),bzGse,'#0000ff',2,'bz-line');
 P.frame(); tsLegend(P,1605,1312,71,['Bx','By','Bz'],['#ff0000','#008000','#0000ff']);
}
{
 const yt=rng(-6,8,2);
 const P=tsPanel(1,'magnetic-field-flux-rope-chart',-6,8,yt,yt.map(String),'Magnetic Field (Flux Rope Frame)','B(nT)');
 line(P,[-1,88],[0,0],'#000',1.5,'zero-line','7,6');
 line(P,idxT(bxFr),bxFr,'#ff0000',2,'bx-prime-line');
 line(P,idxT(byFr),byFr,'#008000',2,'by-prime-line');
 line(P,idxT(bzFr),bzFr,'#0000ff',2,'bz-prime-line');
 line(P,idxT(bmFr),bmFr,'#000000',2.5,'b-magnitude-line');
 P.frame(); tsLegend(P,1610,1646,75,["Bx'","By'","Bz'","|B|"],['#ff0000','#008000','#0000ff','#000000']);
}
{
 const yt=rng(-600,100,100);
 const P=tsPanel(2,'solar-wind-velocity-chart',-600,100,yt,yt.map(String),'Solar Wind Velocity (GSE Frame)','Vsw(km/s)');
 line(P,vT,vxVal,'#ff0000',2.5,'vx-line');
 line(P,vyT,vyVal,'#008000',2.5,'vy-line');
 line(P,vzT,vzVal,'#0000ff',2.5,'vz-line');
 P.frame(); tsLegend(P,1613,1979,71,['Vx','Vy','Vz'],['#ff0000','#008000','#0000ff']);
}
{
 const yt=rng(0,5,1);
 const P=tsPanel(3,'plasma-beta-chart',0,5,yt,yt.map(String),'Plasma Beta','βp and β');
 line(P,betaT,betaVal,'#0000ff',2,'beta-p-line');
 P.frame(); tsLegend(P,1616,2312,69,['βp'],['#0000ff']);
}
{
 const yt=rng(0,40,5);
 const P=tsPanel(4,'proton-density-chart',0,40,yt,yt.map(String),'Proton Number Density','Np(#/cc)');
 line(P,npT,npVal,'#0000ff',2.5,'np-line');
 P.frame();
}
{
 const yt=rng(0,0.5,0.1);
 const P=tsPanel(5,'proton-temperature-chart',0,0.5,yt,yt.map(v=>v.toFixed(1)),['Proton Temperature and T','e','/T','p',''],'Tp(10⁶K)');
 line(P,tpT,tpVal,'#0000ff',2,'tp-line');
 P.frame(); tsLegend(P,125,2979,71,['Tp'],['#0000ff']);
}
</script>
</body></html>
